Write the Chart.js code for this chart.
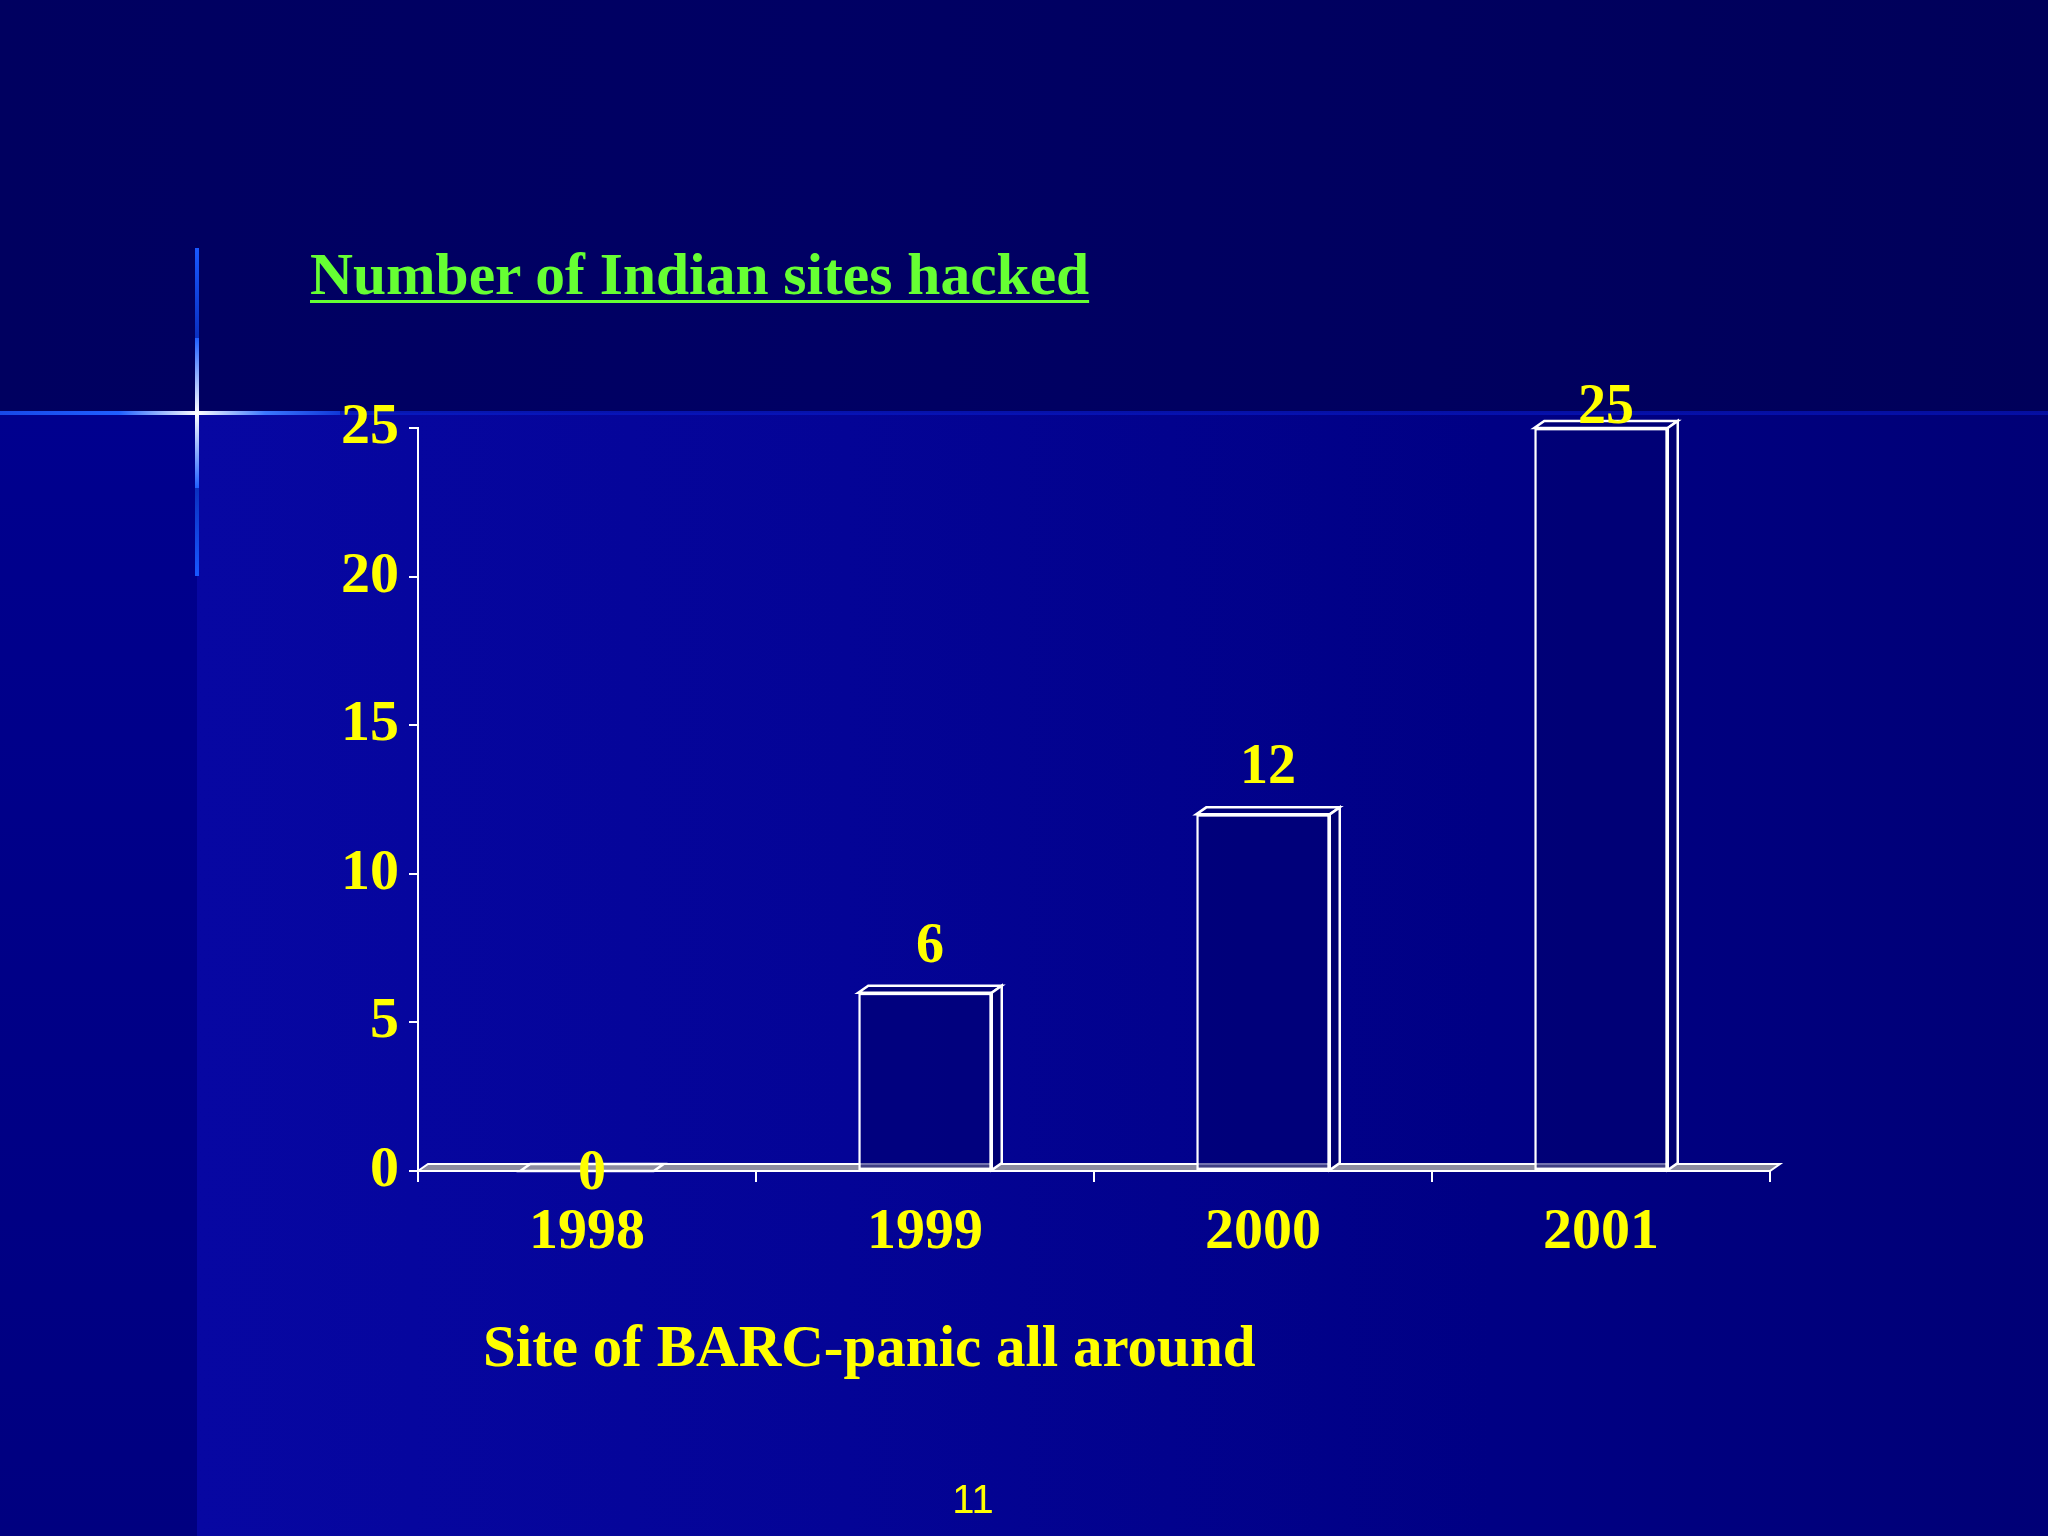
<!DOCTYPE html>
<html>
<head>
<meta charset="utf-8">
<script src="https://cdn.jsdelivr.net/npm/chart.js@4.4.1/dist/chart.umd.min.js"></script>
<style>
  html, body { margin: 0; padding: 0; overflow: hidden; }
  #slide {
    position: relative; width: 2048px; height: 1536px; overflow: hidden;
    background: linear-gradient(to right, #000060 0%, #000064 40%, #00005a 100%);
  }
  #lower {
    position: absolute; left: 197px; top: 413px; width: 1851px; height: 1123px;
    background: linear-gradient(to right, #0707a2 0%, #040496 35%, #000084 70%, #000076 100%);
  }
  #leftStrip {
    position: absolute; left: 0; top: 413px; width: 197px; height: 1123px;
    background: linear-gradient(to bottom, #00008e 0%, #000080 100%);
  }
  .hline { position: absolute; height: 4px; top: 411px; }
  .vline { position: absolute; width: 4px; left: 195px; }
  #chart { position: absolute; left: 0; top: 0; }
  .txt { position: absolute; white-space: nowrap; font-family: 'Liberation Serif', 'Times New Roman', serif; font-weight: bold; }
  #title { left: 310px; top: 244px; font-size: 59.5px; line-height: 60px; color: #66ff33; text-decoration: underline; text-decoration-thickness: 3px; text-underline-offset: 6px; }
  #xTitle { left: 483px; top: 1317px; font-size: 59px; line-height: 59px; color: #ffff00; }
  #pageNo { position: absolute; left: 950px; top: 1479px; width: 46px; text-align: center; font-family: 'Liberation Sans', Arial, sans-serif; font-size: 40px; line-height: 40px; color: #ffff00; }
</style>
</head>
<body>
<div id="slide">
  <div id="leftStrip"></div>
  <div id="lower"></div>
  <!-- faint boundary line across the slide -->
  <div class="hline" style="left:0;width:2048px;background:linear-gradient(to right,#0a2ad0,#0818c0 30%,#0612b0 100%);opacity:0.8"></div>
  <!-- bright cross -->
  <div class="hline" style="left:0;width:340px;background:linear-gradient(to right,#1848e8,#2060ff 35%,#ffffff 58%,#3c78ff 78%,#1038d8 100%)"></div>
  <div class="vline" style="top:248px;height:90px;background:linear-gradient(to bottom,#1858ff,#0a30c0)"></div>
  <div class="vline" style="top:338px;height:150px;background:linear-gradient(to bottom,#2060ff,#ffffff 50%,#2060ff)"></div>
  <div class="vline" style="top:488px;height:88px;background:linear-gradient(to bottom,#0a30c0,#1858ff)"></div>
  <canvas id="chart" width="2048" height="1536"></canvas>
  <div id="title" class="txt">Number of Indian sites hacked</div>
  <div id="xTitle" class="txt">Site of BARC-panic all around</div>
  <div id="pageNo">11</div>
</div>
<script>
// 数据
const years = ['1998', '1999', '2000', '2001'];
const sitesHacked = [0, 6, 12, 25];
const yTickValues = [0, 5, 10, 15, 20, 25];

const YELLOW = '#ffff00';
const DEPTH_X = 10;
const DEPTH_Y = -7;
const labelFont = 'bold 56px "Liberation Serif", "Times New Roman", serif';

// 3D 底面
const floorPlugin = {
    id: 'floor3d',
    beforeDatasetsDraw(chart) {
        const ctx = chart.ctx;
        const a = chart.chartArea;
        ctx.save();
        ctx.beginPath();
        ctx.moveTo(a.left, a.bottom);
        ctx.lineTo(a.right, a.bottom);
        ctx.lineTo(a.right + DEPTH_X, a.bottom + DEPTH_Y);
        ctx.lineTo(a.left + DEPTH_X, a.bottom + DEPTH_Y);
        ctx.closePath();
        ctx.fillStyle = '#8c8ca0';
        ctx.fill();
        ctx.strokeStyle = '#ffffff';
        ctx.lineWidth = 2;
        ctx.stroke();
        ctx.restore();
    }
};

// 3D 柱体顶面和侧面 + 数据标签
const boxPlugin = {
    id: 'box3d',
    afterDatasetsDraw(chart) {
        const ctx = chart.ctx;
        const meta = chart.getDatasetMeta(0);
        ctx.save();
        ctx.strokeStyle = '#ffffff';
        ctx.lineWidth = 2.5;
        ctx.lineJoin = 'miter';
        meta.data.forEach((bar, i) => {
            const p = bar.getProps(['x', 'y', 'base', 'width'], true);
            const l = p.x - p.width / 2;
            const r = p.x + p.width / 2;
            // 顶面
            ctx.beginPath();
            ctx.moveTo(l, p.y);
            ctx.lineTo(l + DEPTH_X, p.y + DEPTH_Y);
            ctx.lineTo(r + DEPTH_X, p.y + DEPTH_Y);
            ctx.lineTo(r, p.y);
            ctx.closePath();
            ctx.fillStyle = '#000078';
            if (sitesHacked[i] > 0) ctx.fill();
            ctx.stroke();
            // 侧面
            if (sitesHacked[i] > 0) {
                ctx.beginPath();
                ctx.moveTo(r, p.y);
                ctx.lineTo(r + DEPTH_X, p.y + DEPTH_Y);
                ctx.lineTo(r + DEPTH_X, p.base + DEPTH_Y);
                ctx.lineTo(r, p.base);
                ctx.closePath();
                ctx.fillStyle = '#000070';
                ctx.fill();
                ctx.stroke();
            }
        });
        // 数据标签
        ctx.font = labelFont;
        ctx.fillStyle = YELLOW;
        ctx.textAlign = 'center';
        ctx.textBaseline = 'alphabetic';
        meta.data.forEach((bar, i) => {
            const p = bar.getProps(['x', 'y', 'base'], true);
            let baseline;
            if (sitesHacked[i] === 0) {
                baseline = p.base + 18;
            } else {
                baseline = Math.max(p.y + DEPTH_Y - 24, chart.chartArea.top - 5);
            }
            ctx.fillText(String(sitesHacked[i]), p.x + DEPTH_X / 2, baseline);
        });
        ctx.restore();
    }
};

const tickFont = { family: '"Liberation Serif", "Times New Roman", serif', size: 58, weight: 'bold' };

new Chart(document.getElementById('chart').getContext('2d'), {
    type: 'bar',
    data: {
        labels: years,
        datasets: [{
            data: sitesHacked,
            backgroundColor: 'rgba(0, 0, 110, 0.55)',
            borderColor: '#ffffff',
            borderWidth: 2.5,
            borderSkipped: false,
            categoryPercentage: 1.0,
            barPercentage: 0.395
        }]
    },
    options: {
        responsive: false,
        devicePixelRatio: 1,
        animation: false,
        layout: { padding: { top: 428, right: 278, bottom: 0, left: 0 } },
        plugins: {
            legend: { display: false },
            tooltip: { enabled: false },
            title: { display: false }
        },
        scales: {
            x: {
                offset: true,
                grid: {
                    offset: true,
                    drawOnChartArea: false,
                    drawTicks: true,
                    tickLength: 11,
                    color: '#ffffff',
                    lineWidth: 2
                },
                border: { display: true, color: '#ffffff', width: 2 },
                ticks: { color: YELLOW, font: tickFont, padding: 16, maxRotation: 0 },
                afterFit(scale) { scale.height = 365; }
            },
            y: {
                min: 0,
                max: 25,
                afterBuildTicks(scale) { scale.ticks = yTickValues.map(v => ({ value: v })); },
                grid: {
                    drawOnChartArea: false,
                    drawTicks: true,
                    tickLength: 9,
                    color: '#ffffff',
                    lineWidth: 2
                },
                border: { display: true, color: '#ffffff', width: 2 },
                ticks: { color: YELLOW, font: tickFont, padding: 10 },
                afterFit(scale) { scale.width = 418; }
            }
        }
    },
    plugins: [floorPlugin, boxPlugin]
});
</script>
</body>
</html>
